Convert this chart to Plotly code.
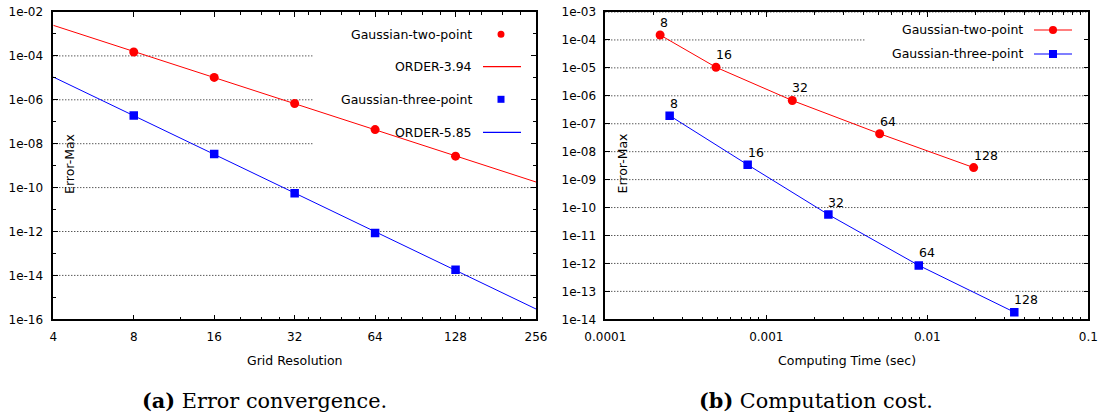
import numpy as np
import plotly.graph_objects as go

# ---------------- data ----------------
grid_res = [8, 16, 32, 64, 128]
err_two = [1.5e-4, 1.05e-5, 6.8e-7, 4.4e-8, 2.7e-9]
err_three = [1.95e-7, 3.4e-9, 5.6e-11, 8.5e-13, 1.8e-14]
time_two = [2.19e-4, 4.87e-4, 1.45e-3, 5.06e-3, 0.0194]
time_three = [2.51e-4, 7.66e-4, 2.43e-3, 8.85e-3, 0.0347]

fit_x = [4, 256]
fit_two = [2.47e-3, 1.8e-10]      # ORDER-3.94
fit_three = [1.09e-5, 2.95e-16]   # ORDER-5.85

left_x_ticks = [4, 8, 16, 32, 64, 128, 256]
left_x_labels = ["4", "8", "16", "32", "64", "128", "256"]
left_x_minor = [12, 20, 24, 28, 36, 40, 48, 56, 72, 80, 96, 112, 144, 160, 192, 224]
left_y_exp = [-16, -14, -12, -10, -8, -6, -4, -2]
left_y_minor_exp = [-15, -13, -11, -9, -7, -5, -3]
right_x_ticks = [1e-4, 1e-3, 1e-2, 1e-1]
right_x_labels = ["0.0001", "0.001", "0.01", "0.1"]
right_x_minor = [m * 10.0 ** e for e in (-4, -3, -2) for m in range(2, 10)]
right_y_exp = list(range(-14, -2))

W, H = 1106, 416
RED = "#ff0000"
BLUE = "#0000ff"
FONT = "DejaVu Sans"

def px(x):
    return x / W

def py(y):
    return 1 - y / H

fig = go.Figure()

# left plot: points + fits
fig.add_trace(go.Scatter(x=fit_x, y=fit_two, mode="lines", line=dict(color=RED, width=1),
                         xaxis="x", yaxis="y", showlegend=False))
fig.add_trace(go.Scatter(x=fit_x, y=fit_three, mode="lines", line=dict(color=BLUE, width=1),
                         xaxis="x", yaxis="y", showlegend=False))
fig.add_trace(go.Scatter(x=grid_res, y=err_two, mode="markers",
                         marker=dict(color=RED, size=9, symbol="circle"),
                         xaxis="x", yaxis="y", showlegend=False))
fig.add_trace(go.Scatter(x=grid_res, y=err_three, mode="markers",
                         marker=dict(color=BLUE, size=8.5, symbol="square"),
                         xaxis="x", yaxis="y", showlegend=False))

# right plot
fig.add_trace(go.Scatter(x=time_two, y=err_two, mode="lines+markers",
                         line=dict(color=RED, width=1),
                         marker=dict(color=RED, size=9, symbol="circle"),
                         xaxis="x2", yaxis="y2", showlegend=False))
fig.add_trace(go.Scatter(x=time_three, y=err_three, mode="lines+markers",
                         line=dict(color=BLUE, width=1),
                         marker=dict(color=BLUE, size=8.5, symbol="square"),
                         xaxis="x2", yaxis="y2", showlegend=False))

annotations = []
for xs, ys in ((time_two, err_two), (time_three, err_three)):
    for n, xv, yv in zip(grid_res, xs, ys):
        annotations.append(dict(x=np.log10(xv), y=np.log10(yv), xref="x2", yref="y2",
                                text=str(n), showarrow=False, xanchor="left", yanchor="bottom",
                                xshift=-2, yshift=3, font=dict(family=FONT, size=12.5, color="black")))

shapes = []
# grid lines (dotted)
grid_line = dict(color="#111111", width=1, dash="1px,2px")
for e in left_y_exp[1:-1]:
    x1 = 0.538 if e >= -8 else 1
    shapes.append(dict(type="line", xref="x domain", yref="y", x0=0, x1=x1,
                       y0=10.0 ** e, y1=10.0 ** e, line=grid_line, layer="below"))
for e in right_y_exp[1:]:
    x1 = 0.54 if e == -4 else 1
    shapes.append(dict(type="line", xref="x2 domain", yref="y2", x0=0, x1=x1,
                       y0=10.0 ** e, y1=10.0 ** e, line=grid_line, layer="below"))

# manual legends (gnuplot style)
lf = dict(family=FONT, size=12.5, color="black")
leg_left = [("Gaussian-two-point", 34.3, RED, "circle"),
            ("ORDER-3.94", 66.7, RED, "line"),
            ("Gaussian-three-point", 99.3, BLUE, "square"),
            ("ORDER-5.85", 132.3, BLUE, "line")]
for txt, yy, col, kind in leg_left:
    annotations.append(dict(x=px(474), y=py(yy), xref="paper", yref="paper", text=txt,
                            showarrow=False, xanchor="right", yanchor="middle", font=lf))
    if kind == "line":
        shapes.append(dict(type="line", xref="paper", yref="paper", x0=px(483), x1=px(521),
                           y0=py(yy), y1=py(yy), line=dict(color=col, width=1.2)))
    else:
        r = 3.5
        shapes.append(dict(type="circle" if kind == "circle" else "rect", xref="paper", yref="paper",
                           x0=px(501 - r), x1=px(501 + r), y0=py(yy - r), y1=py(yy + r),
                           fillcolor=col, line=dict(width=0)))
leg_right = [("Gaussian-two-point", 30, RED, "circle"),
             ("Gaussian-three-point", 54, BLUE, "square")]
for txt, yy, col, kind in leg_right:
    annotations.append(dict(x=px(1025), y=py(yy), xref="paper", yref="paper", text=txt,
                            showarrow=False, xanchor="right", yanchor="middle", font=lf))
    shapes.append(dict(type="line", xref="paper", yref="paper", x0=px(1034), x1=px(1072),
                       y0=py(yy), y1=py(yy), line=dict(color=col, width=1.2)))
    r = 4
    shapes.append(dict(type="circle" if kind == "circle" else "rect", xref="paper", yref="paper",
                       x0=px(1053 - r), x1=px(1053 + r), y0=py(yy - r), y1=py(yy + r),
                       fillcolor=col, line=dict(width=0)))

cen = dict(xref="paper", yref="paper", showarrow=False, xanchor="center", yanchor="middle")
# axis titles
annotations += [
    dict(x=px(294.5), y=py(360), text="Grid Resolution", font=lf, **cen),
    dict(x=px(847), y=py(360), text="Computing Time (sec)", font=lf, **cen),
    dict(x=px(70), y=py(164), text="Error-Max", textangle=-90, font=lf, **cen),
    dict(x=px(622.5), y=py(164), text="Error-Max", textangle=-90, font=lf, **cen),
]
# captions
cf = dict(family="DejaVu Serif", size=20.8, color="black")
annotations += [
    dict(x=px(264), y=py(400), text="<b>(a)</b> Error convergence.", font=cf, **cen),
    dict(x=px(816), y=py(400), text="<b>(b)</b> Computation cost.", font=cf, **cen),
]

tickfont = dict(family=FONT, size=12, color="black")
common = dict(showline=True, linecolor="black", linewidth=1.5, mirror="ticks",
              ticks="inside", ticklen=5, tickwidth=1, tickcolor="black", automargin=False,
              showgrid=False, zeroline=False, tickfont=tickfont, type="log")

ydom = [py(319.3), py(12)]
fig.update_layout(
    template="none",
    width=W, height=H, margin=dict(l=0, r=0, t=0, b=0, autoexpand=False),
    paper_bgcolor="white", plot_bgcolor="white", showlegend=False,
    xaxis=dict(domain=[px(53.3), px(536)], range=[np.log10(4), np.log10(256)],
               tickmode="array", tickvals=left_x_ticks, ticktext=left_x_labels,
               minor=dict(tickmode="array", tickvals=left_x_minor, ticks="inside", ticklen=3,
                          tickcolor="black", showgrid=False),
               ticklabelstandoff=6, anchor="y", **common),
    yaxis=dict(domain=ydom, range=[-16, -2], tickmode="array",
               tickvals=[10.0 ** e for e in left_y_exp],
               ticktext=["1e%03d" % e if e > -10 else "1e%d" % e for e in left_y_exp],
               minor=dict(tickmode="array", tickvals=[10.0 ** e for e in left_y_minor_exp],
                          ticks="inside", ticklen=3, tickcolor="black", showgrid=False),
               ticklabelstandoff=6, anchor="x", **common),
    xaxis2=dict(domain=[px(605.3), px(1088.3)], range=[-4, -1], tickmode="array",
                tickvals=right_x_ticks, ticktext=right_x_labels,
                minor=dict(tickmode="array", tickvals=right_x_minor, ticks="inside", ticklen=3,
                           tickcolor="black", showgrid=False),
                ticklabelstandoff=6, anchor="y2", **common),
    yaxis2=dict(domain=ydom, range=[-14, -3], tickmode="array",
                tickvals=[10.0 ** e for e in right_y_exp],
                ticktext=["1e%03d" % e if e > -10 else "1e%d" % e for e in right_y_exp],
                ticklabelstandoff=5, anchor="x2", **common),
    shapes=shapes, annotations=annotations,
)

fig.write_html("out.html", config={"displayModeBar": False},
               post_script="document.body.style.margin='0px';document.body.style.padding='0px';")
